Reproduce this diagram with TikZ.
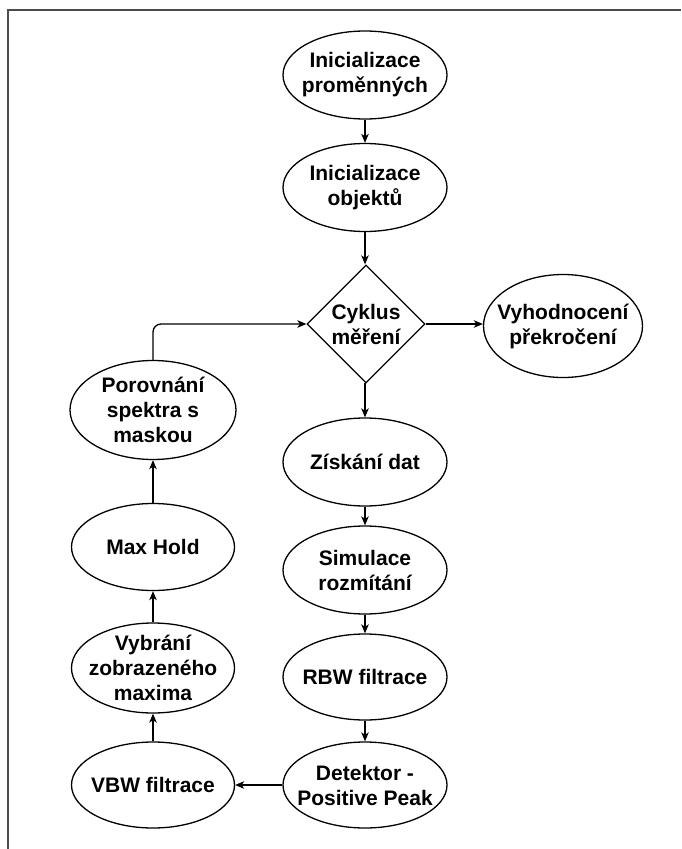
\documentclass[tikz,border=0pt]{standalone}
\usepackage{fontspec}
\setmainfont{Liberation Sans}
\usetikzlibrary{shapes.geometric,arrows.meta}
\begin{document}
\begin{tikzpicture}[x=1pt,y=-1pt,
  every node/.style={font=\bfseries\fontsize{21}{25}\selectfont, align=center, text=black},
  ell/.style={draw=black, line width=1.3pt, ellipse, inner xsep=-15pt, inner ysep=-10pt, minimum width=164pt, minimum height=88pt},
  dia/.style={draw=black, line width=1.3pt, diamond, inner sep=-8pt, minimum width=118pt, minimum height=118pt},
  arr/.style={draw=black, line width=1.3pt, -{Stealth[length=9pt,width=7.5pt,inset=2.5pt]}}
]
\useasboundingbox (0,0) rectangle (681,849);
\draw[draw=black!70, line width=2pt] (8,849) -- (8,10) -- (681,10);

\node[ell] (e1) at (365,75) {Inicializace\\proměnných};
\node[ell] (e2) at (365,187.5) {Inicializace\\objektů};
\node[dia] (cyk) at (366,324) {Cyklus\\měření};
\node[ell, minimum width=159pt, minimum height=103pt] (vyh) at (563,326) {Vyhodnocení\\překročení};
\node[ell] (zisk) at (365,462) {Získání dat};
\node[ell] (sim) at (365,570) {Simulace\\rozmítání};
\node[ell, minimum height=86pt] (rbw) at (365,677) {RBW filtrace};
\node[ell, minimum height=86pt] (det) at (365,785) {Detektor -\\Positive Peak};
\node[ell, minimum width=163pt, minimum height=86pt] (vbw) at (153,785) {VBW filtrace};
\node[ell, minimum width=163pt, minimum height=90pt] (vyb) at (153,668) {Vybrání\\zobrazeného\\maxima};
\node[ell, minimum width=163pt, minimum height=87pt] (mh) at (153,547) {Max Hold};
\node[ell, minimum width=166pt, minimum height=99pt] (por) at (153,410) {Porovnání\\spektra s\\maskou};

\draw[arr] (e1.south) -- (e2.north);
\draw[arr] (e2.south) -- (e2.south |- cyk.north);
\draw[arr] (cyk.east) -- (cyk.east -| vyh.west);
\draw[arr] (cyk.south) -- (cyk.south -| zisk.north) -- (zisk.north);
\draw[arr] (zisk.south) -- (sim.north);
\draw[arr] (sim.south) -- (rbw.north);
\draw[arr] (rbw.south) -- (det.north);
\draw[arr] (det.west) -- (vbw.east);
\draw[arr] (vbw.north) -- (vyb.south);
\draw[arr] (vyb.north) -- (mh.south);
\draw[arr] (mh.north) -- (por.south);
\draw[arr, rounded corners=8pt] (por.north) |- (cyk.west);
\end{tikzpicture}
\end{document}
